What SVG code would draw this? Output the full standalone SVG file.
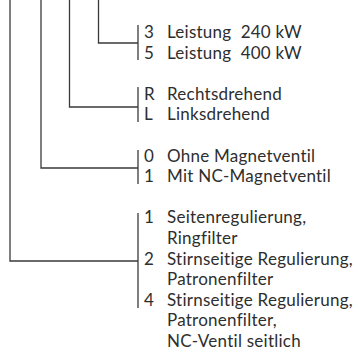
<svg xmlns="http://www.w3.org/2000/svg" width="360" height="356" viewBox="0 0 360 356">
<style>
  .ln { stroke: #3a3a3a; stroke-width: 1.3; fill: none; }
  text { font-family: Lato, "Open Sans", "Liberation Sans", sans-serif; font-size: 17px; letter-spacing: 0.25px; fill: #2e2e2e; white-space: pre; }
</style>
<rect width="360" height="356" fill="#ffffff"/>
<g id="connectors">
  <path class="ln" d="M10,0 V261 H138"/>
  <path class="ln" d="M41,0 V168 H138"/>
  <path class="ln" d="M69.5,0 V107 H138"/>
  <path class="ln" d="M98.5,0 V43 H138"/>
  <path class="ln" d="M138,25 V60"/>
  <path class="ln" d="M138,87 V122"/>
  <path class="ln" d="M138,150 V184"/>
  <path class="ln" d="M138,213 V308"/>
</g>
<g id="power">
  <text x="144" y="38">3</text><text x="167" y="38" xml:space="preserve">Leistung  240 kW</text>
  <text x="144" y="58.6">5</text><text x="167" y="58.6" xml:space="preserve">Leistung  400 kW</text>
</g>
<g id="rotation">
  <text x="144" y="99.8">R</text><text x="167" y="99.8">Rechtsdrehend</text>
  <text x="144" y="120.4">L</text><text x="167" y="120.4">Linksdrehend</text>
</g>
<g id="valve">
  <text x="144" y="161.6">0</text><text x="167" y="161.6">Ohne Magnetventil</text>
  <text x="144" y="182.2">1</text><text x="167" y="182.2">Mit NC-Magnetventil</text>
</g>
<g id="regulation">
  <text x="144" y="223.4">1</text><text x="167" y="223.4">Seitenregulierung,</text>
  <text x="167" y="244">Ringfilter</text>
  <text x="144" y="264.6">2</text><text x="167" y="264.6">Stirnseitige Regulierung,</text>
  <text x="167" y="285.2">Patronenfilter</text>
  <text x="144" y="305.8">4</text><text x="167" y="305.8">Stirnseitige Regulierung,</text>
  <text x="167" y="326.4">Patronenfilter,</text>
  <text x="167" y="347">NC-Ventil seitlich</text>
</g>
</svg>
